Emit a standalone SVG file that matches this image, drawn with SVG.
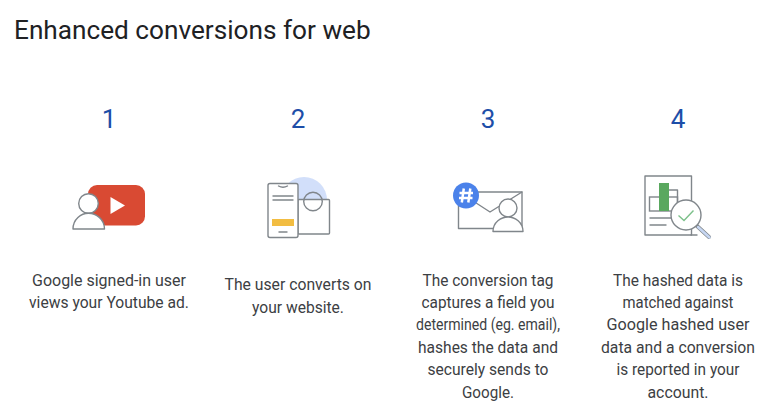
<svg xmlns="http://www.w3.org/2000/svg" width="770" height="416" viewBox="0 0 770 416">
<style>
text{font-family:Roboto,"Noto Sans","Liberation Sans",sans-serif;fill:#3c4043;text-anchor:middle}
.title{font-size:26.200px;text-anchor:start;fill:#202124}
.num{font-size:26px;fill:#1d4ea8}
.body{font-size:15.600px}
.ln{fill:none;stroke:#80868b;stroke-width:1.400;stroke-linejoin:round;stroke-linecap:round}
.w{fill:#fff;stroke:#80868b;stroke-width:1.400;stroke-linejoin:round}
</style>
<rect width="770" height="416" fill="#fff"/>
<text class="title" x="14" y="39">Enhanced conversions for web</text>
<g id="step1">
<text class="num" x="109" y="128">1</text>
<rect x="88" y="185" width="57" height="40.500" rx="9" fill="#d94a33"/>
<path d="M110.500 197L125 205.500L110.500 214Z" fill="#fff"/>
<circle cx="88.500" cy="203.500" r="9.800" class="w"/>
<path d="M73 229C73 219 81 213.300 88.500 213.300C96 213.300 104.500 219 104.500 229Z" class="w"/>
</g>
<g id="step2">
<text class="num" x="298" y="128">2</text>
<path d="M281 200A23 23 0 0 1 327 200Z" fill="#d2dffa"/>
<rect x="298" y="199.500" width="31.500" height="34.500" rx="1" class="w"/>
<circle cx="313" cy="201.500" r="9.300" class="ln"/>
<rect x="268" y="183.500" width="30" height="54" rx="2" class="w"/>
<path d="M278.500 186Q283 188.500 287.500 186M273 196H293M273 200H293M279 232H287" class="ln"/>
<rect x="272" y="219" width="22" height="7" fill="#f2bd42"/>
</g>
<g id="step3">
<text class="num" x="488" y="128">3</text>
<rect x="458.500" y="192" width="63.500" height="36.500" class="w"/>
<path d="M470 199L490 212L522 192" class="ln"/>
<circle cx="508" cy="208" r="9" class="w"/>
<path d="M493 231.500C493 222 501 217 508 217C515 217 523 222 523 231.500Z" class="w"/>
<circle cx="466" cy="195.500" r="13" fill="#4b82ea"/>
<path d="M463.800 188.500L461.800 202.500M470.300 188.500L468.300 202.500M459.500 193H473M459 198H472.500" fill="none" stroke="#fff" stroke-width="2.500"/>
</g>
<g id="step4">
<text class="num" x="678" y="128">4</text>
<rect x="645" y="176" width="46.500" height="59" class="w"/>
<rect x="649.500" y="197" width="28" height="14" fill="#fff" stroke="#80868b" stroke-width="1.400"/>
<path d="M668.500 190H677.500V210" class="ln"/>
<rect x="659" y="183" width="10" height="28" fill="#5aa85f"/>
<path d="M650 218H672M650 225H666M691 235H697" class="ln"/>
<path d="M697 226L709 237" stroke="#80868b" stroke-width="4" stroke-linecap="round"/>
<path d="M698 227L709.500 237.500" stroke="#c6d6f2" stroke-width="2.500" stroke-linecap="round"/>
<circle cx="686" cy="215" r="15" class="w"/>
<path d="M678.500 215.500L684 220.500L693.500 210.500" fill="none" stroke="#7cc08a" stroke-width="1.400"/>
</g>
<g id="text1" class="body">
<text x="109" y="286" textLength="154" lengthAdjust="spacingAndGlyphs">Google signed-in user</text>
<text x="109" y="308" textLength="160" lengthAdjust="spacingAndGlyphs">views your Youtube ad.</text>
</g>
<g id="text2" class="body">
<text x="298" y="290" textLength="147" lengthAdjust="spacingAndGlyphs">The user converts on</text>
<text x="298" y="313" textLength="92" lengthAdjust="spacingAndGlyphs">your website.</text>
</g>
<g id="text3" class="body">
<text x="488" y="286" textLength="131" lengthAdjust="spacingAndGlyphs">The conversion tag</text>
<text x="488" y="308" textLength="133" lengthAdjust="spacingAndGlyphs">captures a field you</text>
<text x="488" y="330" textLength="144" lengthAdjust="spacingAndGlyphs">determined (eg. email),</text>
<text x="488" y="353" textLength="140" lengthAdjust="spacingAndGlyphs">hashes the data and</text>
<text x="488" y="375" textLength="121" lengthAdjust="spacingAndGlyphs">securely sends to</text>
<text x="488" y="398" textLength="52" lengthAdjust="spacingAndGlyphs">Google.</text>
</g>
<g id="text4" class="body">
<text x="678" y="286" textLength="130" lengthAdjust="spacingAndGlyphs">The hashed data is</text>
<text x="678" y="308" textLength="111" lengthAdjust="spacingAndGlyphs">matched against</text>
<text x="678" y="330" textLength="143" lengthAdjust="spacingAndGlyphs">Google hashed user</text>
<text x="678" y="353" textLength="154" lengthAdjust="spacingAndGlyphs">data and a conversion</text>
<text x="678" y="375" textLength="123" lengthAdjust="spacingAndGlyphs">is reported in your</text>
<text x="678" y="398" textLength="61" lengthAdjust="spacingAndGlyphs">account.</text>
</g>
</svg>
